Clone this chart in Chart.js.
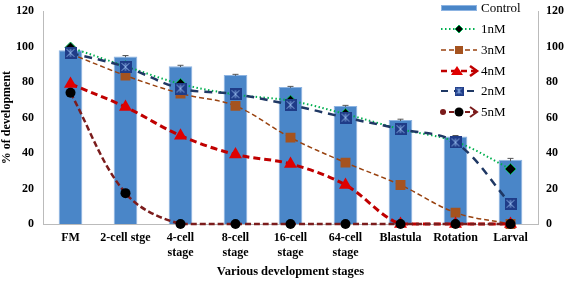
<!DOCTYPE html>
<html>
<head>
<meta charset="utf-8">
<script src="https://cdn.jsdelivr.net/npm/chart.js@4/dist/chart.umd.min.js"></script>
<style>
  html, body { margin: 0; padding: 0; background: #fff; }
  #wrap { width: 567px; height: 281px; }
</style>
</head>
<body>
<div id="wrap"><canvas id="c"></canvas></div>
<script>
// Stage labels and series
const stages = ['FM', '2-cell stge', ['4-cell', 'stage'], ['8-cell', 'stage'], ['16-cell', 'stage'], ['64-cell', 'stage'], 'Blastula', 'Rotation', 'Larval'];
const control = [98, 94.5, 89, 84, 77.2, 66.5, 58.6, 49.3, 36.2];
const controlErr = [0.6, 0.5, 0.5, 0.4, 0.4, 0.4, 0.5, 0.6, 0.8];
const nM1 = [99.5, 89, 79, 73, 69.5, 62, 53.5, 46.5, 31];
const nM3 = [96, 83.7, 73.6, 66.6, 48.7, 34.6, 22, 6.4, 0];
const nM4 = [79, 66, 49.8, 39.2, 33.9, 22, 0, 0, 0];
const nM2 = [96.5, 88.6, 76.4, 73.2, 67.2, 60, 53.5, 46, 11.4];
const nM5 = [74, 17.4, 0, 0, 0, 0, 0, 0, 0];
const yTicks = [0, 20, 40, 60, 80, 100, 120];

const SERIF = '"Liberation Serif", "Times New Roman", serif';

// marker for 2nM: navy square with a light asterisk
function starSquare(size) {
    const cv = document.createElement('canvas');
    cv.width = size; cv.height = size;
    const g = cv.getContext('2d');
    g.fillStyle = '#1f3c88';
    g.fillRect(0, 0, size, size);
    g.strokeStyle = '#8fb4e8';
    g.lineWidth = 1;
    const m = size / 2, r = size * 0.32;
    g.beginPath();
    g.moveTo(m, m - r); g.lineTo(m, m + r);
    g.moveTo(m - r, m - r); g.lineTo(m + r, m + r);
    g.moveTo(m + r, m - r); g.lineTo(m - r, m + r);
    g.stroke();
    return cv;
}
const starMark = starSquare(12);

const lineBase = { type: 'line', fill: false, tension: 0.35, clip: 8, yAxisID: 'y' };

const legendItems = [
    { text: 'Control', kind: 'bar' },
    { text: '1nM', color: '#00b050', dash: [1.5, 2.5], width: 2, mark: 'diamond' },
    { text: '3nM', color: '#99420f', dash: [5, 3], width: 1.5, mark: 'square' },
    { text: '4nM', color: '#c00000', dash: [6, 4], width: 2.5, mark: 'triangle', arrow: true },
    { text: '2nM', color: '#1f3864', dash: [7, 6], width: 2, mark: 'star' },
    { text: '5nM', color: '#7b1c1c', dash: [5, 3], width: 2, mark: 'circle', arrow: true }
];

const legendPlugin = {
    id: 'sideLegend',
    afterDraw(chart) {
        const ctx = chart.ctx;
        const x0 = 441, x1 = 477, tx = 481;
        const ys = [8, 29, 50, 71, 91, 112];
        ctx.save();
        ctx.font = '13px ' + SERIF;
        ctx.textBaseline = 'middle';
        legendItems.forEach((it, i) => {
            const y = ys[i];
            const mx = (x0 + x1) / 2;
            if (it.kind === 'bar') {
                ctx.fillStyle = '#4a86c8';
                ctx.fillRect(x0, y - 3, x1 - x0, 6);
                ctx.strokeStyle = '#8db4e2';
                ctx.lineWidth = 1;
                ctx.strokeRect(x0 + 0.5, y - 2.5, x1 - x0 - 1, 5);
            } else {
                ctx.strokeStyle = it.color;
                ctx.lineWidth = it.width;
                ctx.setLineDash(it.dash);
                ctx.beginPath();
                ctx.moveTo(x0, y); ctx.lineTo(x1, y);
                ctx.stroke();
                ctx.setLineDash([]);
                if (it.arrow) {
                    ctx.beginPath();
                    ctx.moveTo(x1 - 7, y - 5); ctx.lineTo(x1, y); ctx.lineTo(x1 - 7, y + 5);
                    ctx.stroke();
                }
                if (it.mark === 'diamond') {
                    ctx.fillStyle = '#000';
                    ctx.strokeStyle = '#00b050';
                    ctx.lineWidth = 1;
                    ctx.beginPath();
                    ctx.moveTo(mx, y - 4); ctx.lineTo(mx + 4, y); ctx.lineTo(mx, y + 4); ctx.lineTo(mx - 4, y); ctx.closePath();
                    ctx.fill(); ctx.stroke();
                } else if (it.mark === 'square') {
                    ctx.fillStyle = '#a5531f';
                    ctx.fillRect(mx - 4, y - 4, 8, 8);
                } else if (it.mark === 'triangle') {
                    ctx.fillStyle = '#e00000';
                    ctx.beginPath();
                    ctx.moveTo(mx - 2, y - 5); ctx.lineTo(mx + 4, y + 4); ctx.lineTo(mx - 8, y + 4); ctx.closePath();
                    ctx.fill();
                } else if (it.mark === 'star') {
                    ctx.drawImage(starSquare(9), mx - 4.5, y - 4.5);
                } else if (it.mark === 'circle') {
                    ctx.fillStyle = '#7b1c1c';
                    ctx.beginPath(); ctx.arc(x0 + 2, y, 3, 0, Math.PI * 2); ctx.fill();
                    ctx.fillStyle = '#000';
                    ctx.beginPath(); ctx.arc(mx, y, 4.5, 0, Math.PI * 2); ctx.fill();
                }
            }
            ctx.fillStyle = '#000';
            ctx.fillText(it.text, tx, y + 1);
        });
        ctx.restore();
    }
};

// small error caps on the Control bars
const errPlugin = {
    id: 'errCaps',
    afterDatasetDraw(chart, args) {
        if (args.index !== 0) return;
        const ctx = chart.ctx, y = chart.scales.y;
        const meta = chart.getDatasetMeta(0);
        ctx.save();
        ctx.strokeStyle = '#555';
        ctx.lineWidth = 1;
        meta.data.forEach((bar, i) => {
            const top = y.getPixelForValue(control[i] + controlErr[i]);
            const bot = y.getPixelForValue(control[i] - controlErr[i]);
            ctx.beginPath();
            ctx.moveTo(bar.x, top); ctx.lineTo(bar.x, bot);
            ctx.moveTo(bar.x - 3, top); ctx.lineTo(bar.x + 3, top);
            ctx.stroke();
        });
        ctx.restore();
    }
};

new Chart(document.getElementById('c'), {
    data: {
        labels: stages,
        datasets: [
            { type: 'bar', label: 'Control', data: control, backgroundColor: '#4a86c8', borderColor: '#8db4e2', borderWidth: 1,
              barPercentage: 0.43, categoryPercentage: 1, order: 10, yAxisID: 'y' },
            { ...lineBase, label: '1nM', data: nM1, borderColor: '#00b050', borderWidth: 2, borderDash: [1.5, 2.5],
              pointStyle: 'rectRot', pointRadius: 5.5, pointBackgroundColor: '#000', pointBorderColor: '#00b050', pointBorderWidth: 1, order: 5 },
            { ...lineBase, label: '3nM', data: nM3, borderColor: '#99420f', borderWidth: 1.5, borderDash: [5, 3],
              pointStyle: 'rect', pointRadius: 7, pointBackgroundColor: '#a5531f', pointBorderColor: '#a5531f', pointBorderWidth: 0, order: 4 },
            { ...lineBase, label: '4nM', data: nM4, borderColor: '#c00000', borderWidth: 3, borderDash: [7, 4],
              pointStyle: 'triangle', pointRadius: 7.5, pointBackgroundColor: '#e00000', pointBorderColor: '#e00000', pointBorderWidth: 0, order: 3 },
            { ...lineBase, label: '2nM', data: nM2, borderColor: '#1f3864', borderWidth: 2.5, borderDash: [8, 6],
              pointStyle: starMark, pointRadius: 6, order: 2 },
            { ...lineBase, label: '5nM', data: nM5, borderColor: '#7b1c1c', borderWidth: 2.5, borderDash: [6, 3],
              pointStyle: 'circle', pointRadius: 5, pointBackgroundColor: '#000', pointBorderColor: '#000', pointBorderWidth: 0, order: 1 }
        ]
    },
    options: {
        responsive: true,
        maintainAspectRatio: false,
        animation: false,
        layout: { padding: { top: 6, right: 0, left: 0, bottom: 0 } },
        plugins: { legend: { display: false }, tooltip: { enabled: false } },
        scales: {
            x: {
                grid: { display: false, drawTicks: true, tickLength: 5, color: '#bbb' },
                border: { color: '#bbb' },
                ticks: { color: '#000', font: { family: SERIF, size: 12, weight: 'bold' }, maxRotation: 0, autoSkip: false, padding: 2 },
                title: { display: true, text: 'Various development stages', color: '#000', font: { family: SERIF, size: 12.5, weight: 'bold' }, padding: { top: 2, bottom: 2 } },
                afterFit(s) { s.height = 57; }
            },
            y: {
                position: 'left', min: 0, max: 120,
                afterBuildTicks(s) { s.ticks = yTicks.map(v => ({ value: v })); },
                grid: { display: false, drawTicks: true, tickLength: 5, color: '#bbb' },
                border: { color: '#bbb' },
                ticks: { color: '#000', font: { family: SERIF, size: 12, weight: 'bold' }, padding: 4 },
                title: { display: true, text: '% of development', color: '#000', font: { family: SERIF, size: 12, weight: 'bold' }, padding: { top: 0, bottom: 2 } },
                afterFit(s) { s.width = 43; }
            },
            y2: {
                position: 'right', min: 0, max: 120,
                afterBuildTicks(s) { s.ticks = yTicks.map(v => ({ value: v })); },
                grid: { display: false, drawTicks: true, tickLength: 4, color: '#bbb' },
                border: { color: '#bbb' },
                ticks: { color: '#000', font: { family: SERIF, size: 12, weight: 'bold' }, padding: 4 },
                afterFit(s) { s.width = 29; }
            }
        }
    },
    plugins: [errPlugin, legendPlugin]
});
</script>
</body>
</html>
